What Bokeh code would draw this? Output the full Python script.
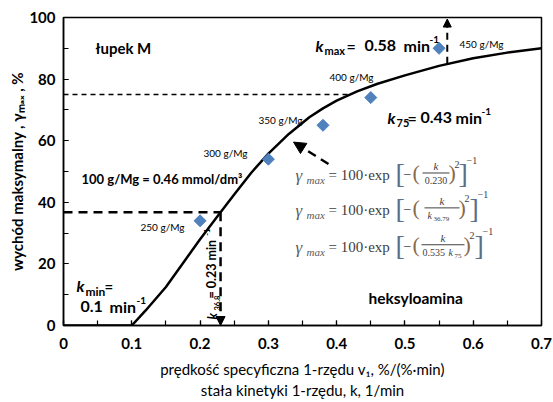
import math
from bokeh.plotting import figure
from bokeh.models import Label, Arrow, NormalHead, FixedTicker
from bokeh.embed import file_html
from bokeh.resources import INLINE

# ---- data ----
doses = ["250 g/Mg", "300 g/Mg", "350 g/Mg", "400 g/Mg", "450 g/Mg"]
k_data = [0.20, 0.30, 0.38, 0.45, 0.55]
y_data = [34, 54, 65, 74, 90]

curve_k = [0.0, 0.10, 0.12, 0.15, 0.20, 0.23, 0.25, 0.275, 0.30, 0.33, 0.36,
           0.38, 0.40, 0.43, 0.46, 0.50, 0.55, 0.60, 0.65, 0.70]
curve_y = [0.0, 0.0, 4.8, 12.5, 28.0, 36.8, 42.5, 49.6, 55.8, 62.2, 67.6,
           70.5, 73.0, 76.0, 78.5, 81.2, 84.3, 86.8, 88.6, 90.0]

x_ticks = [0, 0.1, 0.2, 0.3, 0.4, 0.5, 0.6, 0.7]
x_minor = [0.05 * i for i in range(15)]
y_ticks = [0, 20, 40, 60, 80, 100]
y_minor = [10 * i for i in range(11)]

k368, y368 = 0.23, 36.8
k75, y75 = 0.42, 75
kmax, ykmax = 0.562, 85

FONT = "Lato"
SERIF = "Liberation Serif"

p = figure(width=553, height=402, x_range=(0, 0.7), y_range=(0, 100),
           output_backend="svg", toolbar_location=None,
           min_border_left=63, min_border_right=12, min_border_top=17,
           min_border_bottom=76)
p.xgrid.visible = False
p.ygrid.visible = False
p.outline_line_color = "black"
p.outline_line_width = 1.5
p.background_fill_color = "white"
p.border_fill_color = "white"

for ax in (p.xaxis[0], p.yaxis[0]):
    ax.axis_line_color = "black"
    ax.axis_line_width = 1.5
    ax.major_tick_in = 5
    ax.major_tick_out = 0
    ax.minor_tick_in = 5
    ax.minor_tick_out = 0
    ax.major_tick_line_color = "black"
    ax.minor_tick_line_color = "black"
    ax.major_tick_line_width = 1.2
    ax.minor_tick_line_width = 1.2
    ax.major_label_text_font = FONT
    ax.major_label_text_font_size = "15px"
    ax.major_label_text_font_style = "bold"
    ax.major_label_text_color = "black"
    ax.axis_label_text_font = FONT
    ax.axis_label_text_color = "black"

p.xaxis.ticker = FixedTicker(ticks=x_ticks, minor_ticks=x_minor)
p.yaxis.ticker = FixedTicker(ticks=y_ticks, minor_ticks=y_minor)
p.xaxis.major_label_overrides = {t: ("0" if t == 0 else f"{t:.1f}") for t in x_ticks}
p.xaxis.major_label_standoff = 12
p.yaxis.major_label_standoff = 8
p.xaxis.axis_label = "prędkość specyficzna 1-rzędu v₁, %/(%·min)\nstała kinetyki 1-rzędu, k, 1/min"
p.xaxis.axis_label_text_font_size = "15px"
p.xaxis.axis_label_text_font_style = "normal"
p.xaxis.axis_label_standoff = 8
p.yaxis.axis_label = "wychód maksymalny , γₘₐₓ , %"
p.yaxis.axis_label_text_font_size = "15px"
p.yaxis.axis_label_text_font_style = "bold"
p.yaxis.axis_label_standoff = 0

# reference pixel -> data helpers (for annotation placement)
def dx(px):
    return (px - 63) / (541 - 63) * 0.7

def dy(py):
    return (326 - py) / (326 - 17) * 100

def lab(text, px, py, size, bold=False, italic=False, color="black",
        font=FONT, align="left", angle=0.0):
    style = ("bold italic" if bold and italic else "bold" if bold
             else "italic" if italic else "normal")
    p.add_layout(Label(x=dx(px), y=dy(py), text=text, text_font=font,
                       text_font_size=f"{size}px", text_font_style=style,
                       text_color=color, text_align=align,
                       text_baseline="middle", angle=angle))

# reference lines
p.line([0, k368], [y368, y368], line_color="black", line_width=2.5, line_dash="9 6")
p.add_layout(Arrow(x_start=k368, y_start=y368, x_end=k368, y_end=0,
                   line_color="black", line_width=2.5, line_dash="9 6",
                   end=NormalHead(size=9, fill_color="black", line_color="black")))
p.line([0, k75], [y75, y75], line_color="black", line_width=1.5, line_dash="5 4")
p.add_layout(Arrow(x_start=kmax, y_start=ykmax, x_end=kmax, y_end=99.5,
                   line_color="black", line_width=2, line_dash="7 5",
                   end=NormalHead(size=8, fill_color="black", line_color="black")))

# model curve and points
p.line(curve_k, curve_y, line_color="black", line_width=2.5)
p.scatter(k_data, y_data, marker="square", angle=math.pi / 4, size=8.5,
          fill_color="#4F81BD", line_color="#4F81BD")

# arrow pointing at the curve from the formulas
p.add_layout(Arrow(x_start=dx(328), y_start=dy(164), x_end=dx(293), y_end=dy(142),
                   line_color="black", line_width=2.5, line_dash="9 6",
                   end=NormalHead(size=12, fill_color="black", line_color="black")))

# dose labels
dose_pos = [(140, 227), (203, 153), (258, 120), (329, 77), (459, 44)]
for t, (px, py) in zip(doses, dose_pos):
    lab(t, px, py, 10)

lab("łupek M", 95, 48, 15, bold=True)
lab("heksyloamina", 368, 298, 15.5, bold=True)
lab("100 g/Mg = 0.46 mmol/dm³", 81, 179, 13, bold=True)

# k_max
lab("k", 315, 45, 16, bold=True, italic=True)
lab("max", 324, 50, 11, bold=True)
lab("=", 346, 45, 16, bold=True)
lab("0.58", 364, 45, 16, bold=True)
lab("min", 403, 45, 16, bold=True)
lab("-1", 429, 39, 10, bold=True)

# k_75
lab("k", 387, 117, 16, bold=True, italic=True)
lab("75", 396, 123, 11, bold=True)
lab("=", 407, 117, 16, bold=True)
lab("0.43", 420, 117, 16, bold=True)
lab("min", 455, 117, 16, bold=True)
lab("-1", 481, 111, 10, bold=True)

# k_min
lab("k", 76, 286, 16, bold=True, italic=True)
lab("min", 85, 292, 12, bold=True)
lab("=", 104, 286, 15, bold=True)
lab("0.1", 80, 307, 16, bold=True)
lab("min", 109, 307, 16, bold=True)
lab("-1", 136, 301, 10, bold=True)

# k_36.8 (rotated)
rot = math.pi / 2
lab("k", 211, 320, 13, bold=True, italic=True, angle=rot)
lab("36.8", 216, 311, 7.5, bold=True, angle=rot)
lab("= 0.23 min", 211, 299, 12.5, bold=True, angle=rot)
lab("-1", 206, 236, 7.5, bold=True, angle=rot)

# formulas
FC = "#404040"
lines = [
    dict(y=175, den="0.230", den_sub=None, bar=(422, 449), rp=448, two=454, rb=458, m1=466),
    dict(y=210, den="k", den_sub="36.79", bar=(424, 459), rp=458, two=464, rb=469, m1=477),
    dict(y=247, den="0.535k", den_sub="75", bar=(421, 464), rp=463, two=469, rb=474, m1=482),
]
for L in lines:
    y0 = L["y"]
    lab("γ", 295, y0 + 1, 17, italic=True, color="#5a5a5a", font=SERIF)
    lab("max", 306, y0 + 5, 11, italic=True, color="#5a5a5a", font=SERIF)
    lab("= 100·exp", 328, y0, 15, color=FC, font=SERIF)
    lab("[", 395, y0 - 1, 28, color="#5b6f8a", font=SERIF)
    lab("−", 403, y0 - 1, 14, color=FC, font=SERIF)
    lab("(", 412, y0 - 2, 22, color="#8a6a4a", font=SERIF)
    b0, b1 = L["bar"]
    cx = (b0 + b1) / 2
    lab("k", cx, y0 - 9, 11, italic=True, color=FC, font=SERIF, align="center")
    p.segment(x0=[dx(b0)], y0=[dy(y0 - 2)], x1=[dx(b1)], y1=[dy(y0 - 2)],
              line_color=FC, line_width=1)
    if L["den_sub"] is None:
        lab(L["den"], cx, y0 + 6, 10, color=FC, font=SERIF, align="center")
    else:
        if L["den"] == "k":
            lab("k", b0 + 3, y0 + 6, 10, italic=True, color=FC, font=SERIF)
            lab(L["den_sub"], b0 + 9, y0 + 9, 7, color=FC, font=SERIF)
        else:
            lab("0.535", b0 + 1, y0 + 6, 10, color=FC, font=SERIF)
            lab("k", b0 + 27, y0 + 6, 10, italic=True, color=FC, font=SERIF)
            lab(L["den_sub"], b0 + 33, y0 + 9, 7, color=FC, font=SERIF)
    lab(")", L["rp"], y0 - 2, 22, color="#8a6a4a", font=SERIF)
    lab("2", L["two"], y0 - 11, 10, color=FC, font=SERIF)
    lab("]", L["rb"], y0 - 1, 28, color="#5b6f8a", font=SERIF)
    lab("−1", L["m1"], y0 - 15, 10, color=FC, font=SERIF)

open("out.html", "w").write(file_html(p, INLINE))
